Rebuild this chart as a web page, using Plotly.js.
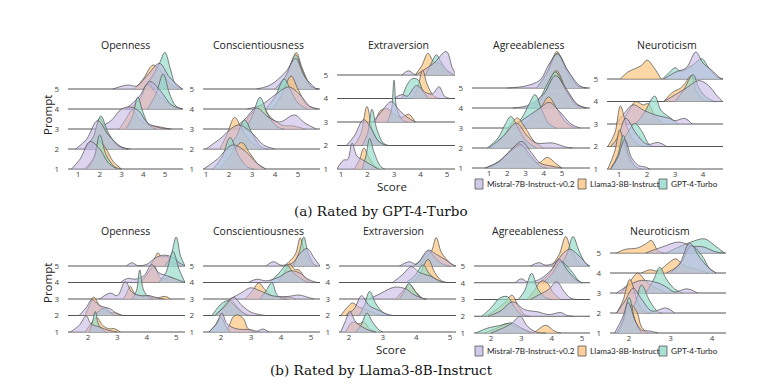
<!DOCTYPE html>
<html><head><meta charset="utf-8">
<script src="https://cdn.plot.ly/plotly-3.0.1.min.js"></script>
<style>html,body{margin:0;padding:0;background:#fff}#chart{width:762px;height:390px}</style>
</head><body><div id="chart"></div>
<script>
const traits = ['Openness','Conscientiousness','Extraversion','Agreeableness','Neuroticism'];
const models = ['Mistral-7B-Instruct-v0.2','Llama3-8B-Instruct','GPT-4-Turbo'];
const prompts = ['1','2','3','4','5'];
const raters = ['(a) Rated by GPT-4-Turbo','(b) Rated by Llama3-8B-Instruct'];
const scoreTicksA = [[1,2,3,4,5],[1,2,3,4,5],[1,2,3,4,5],[1,2,3,4,5],[1,2,3,4]];
const scoreTicksB = [[2,3,4,5],[2,3,4,5],[2,3,4,5],[2,3,4,5],[2,3,4]];

// Density outlines: per prompt 1..5, flat [score, height, ...]
// (height in units of the row spacing). (a) rated by GPT-4-Turbo
const gOpenMis = [[0.7,0,1.1,0.5,1.55,1.37,2.0,1.0,2.4,0.3,2.8,0],[0.9,0,1.4,0.5,1.9,1.42,2.4,0.7,3.0,0.1,3.4,0],[1.8,0,2.5,0.4,3.0,1.0,3.4,1.1,3.8,0.9,4.2,0.3,4.8,0.05,5.3,0],[3.2,0,3.8,0.6,4.3,1.37,4.8,0.9,5.3,0.2,5.8,0],[2.6,0,3.3,0.2,3.7,0.15,4.2,0.7,4.75,1.28,5.2,0.6,5.8,0]];
const gOpenLla = [[1.3,0,1.7,0.5,1.97,1.37,2.3,1.0,2.6,0.4,3.0,0],[1.3,0,1.7,0.6,2.0,1.53,2.4,0.7,2.9,0.15,3.3,0],[2.9,0,3.2,0.5,3.5,0.95,3.9,0.4,4.3,0.2,4.8,0.1,5.2,0],[3.4,0,3.9,0.6,4.2,1.25,4.6,0.8,5.0,0.4,5.5,0],[3.6,0,4.0,0.5,4.45,1.2,4.8,0.9,5.2,0.3,5.6,0]];
const gOpenGpt = [[1.4,0,1.75,0.6,2.0,1.7,2.3,0.7,2.7,0.1,3.0,0],[1.3,0,1.7,0.6,2.05,1.65,2.4,0.8,2.9,0.1,3.3,0],[3.2,0,3.5,0.6,3.75,1.6,4.0,0.8,4.3,0.15,4.6,0],[4.2,0,4.6,0.8,4.92,1.75,5.2,0.8,5.5,0.15,5.8,0],[4.0,0,4.4,0.6,4.75,1.3,5.0,1.83,5.25,1.0,5.5,0.2,5.8,0]];
const gConsMis = [[0.9,0,1.5,0.5,2.15,1.2,2.7,0.9,3.2,0.3,3.6,0],[1.0,0,1.6,0.5,2.4,1.2,3.0,0.8,3.5,0.2,4.0,0],[2.2,0,2.7,0.5,3.2,1.05,3.7,0.6,4.2,0.35,4.85,0.7,5.3,0.3,5.8,0],[2.8,0,3.4,0.2,4.0,0.7,4.6,1.1,5.1,0.7,5.5,0.15,5.9,0],[3.2,0,3.7,0.15,4.1,0.45,4.5,0.9,4.9,1.53,5.3,0.6,5.8,0]];
const gConsLla = [[1.6,0,2.0,0.6,2.55,1.32,2.9,0.8,3.3,0.2,3.6,0],[1.6,0,1.9,0.7,2.25,1.58,2.6,0.9,3.0,0.3,3.4,0],[2.5,0,3.0,0.8,3.4,1.17,3.8,0.6,4.3,0.2,4.8,0.15,5.3,0],[3.9,0,4.3,0.7,4.7,1.65,5.0,1.0,5.4,0.2,5.8,0],[4.0,0,4.4,0.5,4.7,1.3,4.93,1.82,5.2,1.0,5.6,0.1,5.9,0]];
const gConsGpt = [[1.3,0,1.7,0.6,2.05,1.57,2.4,0.7,2.8,0.1,3.1,0],[1.9,0,2.3,0.6,2.68,1.45,3.0,0.8,3.4,0.1,3.7,0],[2.7,0,3.0,0.6,3.35,1.58,3.7,0.7,4.1,0.1,4.4,0],[3.6,0,4.0,0.6,4.4,1.5,4.7,0.9,5.0,0.3,5.4,0],[4.0,0,4.5,0.7,4.9,1.7,5.2,0.9,5.6,0.1,5.9,0]];
const gExtrMis = [[0.85,0,1.1,0.38,1.25,0.4,1.42,1.1,1.6,0.55,1.8,0.4,2.1,0.2,2.4,0],[1.2,0,1.5,0.4,1.85,1.1,2.1,0.8,2.4,0.2,2.7,0],[2.2,0,2.5,0.4,2.9,0.87,3.2,0.5,3.5,0.2,3.8,0],[3.0,0,3.3,0.17,3.5,0.1,3.85,0.55,4.2,0.25,4.45,0.2,4.7,0.5,4.9,0.1,5.1,0],[3.3,0,3.55,0.18,3.8,0.02,4.1,0.2,4.5,0.5,4.97,1.0,5.2,0.3,5.35,0]];
const gExtrLla = [[1.5,0,1.7,0.4,1.86,0.89,2.05,0.5,2.3,0.1,2.5,0],[1.5,0,1.75,0.5,1.98,1.66,2.2,0.6,2.5,0.1,2.7,0],[2.3,0,2.5,0.5,2.8,0.55,3.0,0.3,3.3,0.2,3.55,0.33,3.8,0],[3.7,0,3.9,0.5,4.08,1.2,4.25,0.6,4.5,0.1,4.7,0],[3.8,0,4.05,0.4,4.28,0.93,4.5,0.55,4.7,0.5,4.95,0.2,5.2,0]];
const gExtrGpt = [[1.8,0,1.95,0.6,2.08,1.3,2.25,0.7,2.5,0.1,2.65,0],[1.8,0,2.0,0.5,2.17,1.54,2.35,0.7,2.6,0.1,2.8,0],[2.75,0,2.9,0.5,3.0,1.78,3.1,0.6,3.3,0.1,3.5,0],[3.3,0,3.5,0.6,3.7,0.85,3.9,0.8,4.1,0.3,4.3,0],[4.2,0,4.45,0.6,4.6,0.86,4.75,0.6,5.0,0.2,5.3,0]];
const gAgreMis = [[0.8,0,1.5,0.3,2.2,0.9,2.8,1.33,3.3,0.8,3.8,0.25,4.4,0.1,5.0,0],[1.0,0,1.8,0.6,2.5,1.25,3.1,0.6,3.6,0.25,4.5,0.25,5.2,0.05,5.6,0],[2.2,0,3.0,0.5,3.8,1.0,4.3,1.28,4.9,0.8,5.5,0.2,6.0,0],[2.3,0,3.2,0.15,4.0,0.7,4.65,1.62,5.2,1.0,5.9,0.15,6.4,0],[2.0,0,3.0,0.1,3.8,0.4,4.3,1.2,4.75,1.7,5.3,0.9,6.0,0.1,6.4,0]];
const gAgreLla = [[0.9,0,1.6,0.3,2.2,0.9,2.7,1.2,3.2,0.6,3.7,0.25,4.2,0.53,4.7,0.2,5.0,0],[1.2,0,1.8,0.6,2.2,1.2,2.56,1.5,3.0,1.0,3.5,0.3,4.0,0],[2.8,0,3.4,0.6,3.9,1.1,4.27,1.55,4.7,1.0,5.2,0.3,5.7,0],[3.5,0,4.1,0.8,4.69,1.87,5.2,1.0,5.8,0.2,6.3,0],[3.6,0,4.1,0.6,4.5,1.5,4.72,1.83,5.0,1.4,5.5,0.4,6.0,0]];
const gAgreGpt = [[0.8,0,1.5,0.3,2.2,0.85,2.75,1.15,3.3,0.6,3.8,0.1,4.2,0],[0.9,0,1.5,0.5,1.9,1.2,2.2,1.58,2.6,1.0,3.0,0.4,3.6,0],[2.3,0,2.8,0.5,3.2,1.2,3.53,1.67,3.9,0.9,4.3,0.2,4.7,0],[3.3,0,3.8,0.5,4.2,1.2,4.65,1.8,5.2,0.9,5.8,0.15,6.3,0],[3.6,0,4.2,0.8,4.75,1.75,5.3,0.9,5.9,0.1,6.3,0]];
const gNeurMis = [[0.7,0,0.95,0.5,1.2,1.3,1.45,0.5,1.7,0.15,1.9,0.1,2.1,0],[0.7,0,0.95,0.4,1.24,1.25,1.6,0.6,2.0,0.1,2.4,0.18,2.7,0],[0.9,0,1.2,0.5,1.5,0.85,1.9,0.6,2.3,0.4,2.8,0.25,3.0,0.15,3.35,0.25,3.6,0],[2.6,0,3.0,0.3,3.4,0.6,3.85,0.93,4.2,0.7,4.5,0.25,4.7,0],[2.6,0,3.0,0.3,3.4,0.5,3.74,1.2,4.0,0.7,4.3,0.4,4.6,0.05,4.7,0]];
const gNeurLla = [[0.6,0,0.85,0.8,1.02,1.74,1.2,1.0,1.4,0.3,1.6,0],[0.6,0,0.85,0.6,1.05,1.8,1.25,1.0,1.5,0.3,1.8,0],[1.1,0,1.35,0.6,1.6,1.0,1.85,0.85,2.05,0.9,2.3,0.3,2.6,0],[2.6,0,2.9,0.4,3.2,0.6,3.35,0.8,3.58,1.15,3.75,0.5,4.0,0.1,4.2,0],[1.05,0,1.3,0.3,1.55,0.45,1.8,0.6,2.0,0.84,2.25,0.5,2.5,0]];
const gNeurGpt = [[0.7,0,0.95,0.6,1.15,1.5,1.35,0.6,1.6,0.1,1.8,0],[1.0,0,1.3,0.6,1.56,1.03,1.8,0.7,2.1,0.05,2.3,0],[1.6,0,1.9,0.5,2.27,1.24,2.5,0.6,2.8,0.3,3.1,0],[3.0,0,3.3,0.5,3.64,1.19,3.85,0.6,4.1,0.2,4.4,0],[2.55,0,2.8,0.3,3.0,0.5,3.2,0.35,3.6,0.6,3.95,0.9,4.2,0.5,4.5,0.1,4.7,0]];

// (b) rated by Llama3-8B-Instruct
const lOpenMis = [[1.4,0,1.7,0.4,1.94,0.98,2.1,0.5,2.4,0.3,2.7,0.1,3.0,0],[1.7,0,1.95,0.5,2.13,0.96,2.4,0.6,2.76,0.4,3.0,0.1,3.2,0],[2.4,0,2.76,0.36,3.0,0.2,3.27,1.06,3.5,0.4,3.8,0.2,4.1,0.2,4.4,0.05,4.6,0],[3.1,0,3.35,0.25,3.6,0.2,3.9,0.4,4.17,1.08,4.4,0.6,4.7,0.4,5.0,0.2,5.3,0],[3.3,0,3.5,0.2,3.7,0.02,4.0,0.1,4.3,0.5,4.6,0.66,4.9,0.5,5.1,0.2,5.3,0]];
const lOpenLla = [[1.9,0,2.1,0.5,2.3,0.88,2.5,0.4,2.7,0.2,2.9,0.2,3.1,0],[1.9,0,2.05,0.6,2.19,1.12,2.4,0.6,2.7,0.2,2.95,0.16,3.15,0],[3.2,0,3.3,0.3,3.44,0.76,3.6,0.3,3.8,0.2,4.05,0.2,4.3,0.05,4.63,0.16,4.8,0],[3.8,0,4.05,0.6,4.25,1.0,4.45,0.3,4.6,0.2,4.8,0.35,5.0,0.1,5.2,0],[4.1,0,4.25,0.4,4.38,0.8,4.5,0.55,4.68,0.6,4.85,0.3,5.0,0.1,5.2,0]];
const lOpenGpt = [[2.05,0,2.15,0.6,2.25,1.24,2.35,0.5,2.5,0.1,2.6,0],[2.2,0,2.4,0.3,2.59,0.46,2.75,0.2,2.9,0],[3.5,0,3.65,0.5,3.76,1.76,3.88,0.6,4.05,0.1,4.2,0],[4.4,0,4.65,0.6,4.89,1.88,5.1,0.8,5.3,0],[4.6,0,4.8,0.5,5.0,1.76,5.15,0.6,5.3,0]];
const lConsMis = [[1.6,0,1.85,0.5,2.03,1.14,2.2,0.5,2.5,0.2,3.0,0.14,3.2,0.05,3.4,0.18,3.6,0],[1.8,0,2.1,0.5,2.42,1.1,2.7,0.6,3.0,0.2,3.3,0.05,3.5,0],[2.3,0,2.7,0.4,2.98,0.68,3.3,0.5,3.7,0.2,4.2,0.15,4.6,0.24,4.9,0.1,5.1,0],[2.9,0,3.2,0.2,3.5,0.1,3.9,0.3,4.3,0.7,4.6,0.6,4.9,0.2,5.2,0],[3.5,0,3.75,0.26,4.0,0.05,4.4,0.2,4.6,0.7,4.87,1.06,5.1,0.5,5.3,0]];
const lConsLla = [[2.1,0,2.25,0.3,2.4,0.9,2.55,1.04,2.75,0.8,2.9,0.2,3.1,0],[1.8,0,2.05,0.5,2.31,0.96,2.55,0.5,2.8,0.1,3.0,0],[2.8,0,3.05,0.5,3.26,0.98,3.45,0.6,3.7,0.2,4.0,0.1,4.3,0.1,4.5,0],[3.9,0,4.1,0.6,4.29,1.12,4.45,0.8,4.6,0.76,4.8,0.3,5.0,0],[4.1,0,4.35,0.4,4.5,0.8,4.64,1.7,4.8,0.8,5.0,0.2,5.2,0]];
const lConsGpt = [[1.6,0,1.8,0.4,2.0,0.9,2.15,0.4,2.3,0],[1.7,0,1.9,0.5,2.05,0.76,2.25,0.9,2.45,0.6,2.7,0.2,2.9,0],[3.3,0,3.5,0.5,3.7,1.0,3.85,0.3,4.0,0.05,4.2,0],[3.6,0,3.9,0.5,4.2,1.06,4.4,0.6,4.7,0.2,4.9,0],[4.4,0,4.6,0.8,4.76,1.76,4.9,0.8,5.1,0.1,5.2,0]];
const lExtrMis = [[1.75,0,1.9,0.7,2.02,1.26,2.2,0.6,2.4,0.3,2.6,0.1,2.8,0],[1.9,0,2.15,0.4,2.37,1.2,2.6,0.6,2.9,0.3,3.1,0.1,3.3,0],[2.6,0,2.9,0.3,3.36,0.72,3.7,0.6,3.9,0.3,4.1,0.1,4.3,0],[3.3,0,3.6,0.5,3.85,0.96,4.1,0.6,4.4,0.4,4.7,0.1,4.9,0],[3.5,0,3.8,0.26,4.0,0.1,4.35,0.96,4.6,0.7,4.85,0.4,5.1,0.05,5.2,0]];
const lExtrLla = [[1.9,0,2.1,0.6,2.3,0.5,2.45,0.6,2.6,0.2,2.8,0],[1.75,0,1.95,0.5,2.1,0.76,2.3,0.5,2.6,0.3,2.8,0.1,3.0,0],[3.4,0,3.6,0.5,3.8,0.86,4.0,0.4,4.2,0],[3.9,0,4.1,0.5,4.35,1.4,4.55,0.6,4.75,0.1,4.9,0],[4.1,0,4.3,0.6,4.45,0.9,4.59,1.72,4.75,0.8,5.0,0.2,5.15,0]];
const lExtrGpt = [[2.2,0,2.35,0.4,2.53,1.14,2.7,0.6,2.9,0.1,3.0,0],[2.3,0,2.45,0.6,2.61,1.46,2.8,0.7,3.0,0.2,3.2,0],[3.5,0,3.65,0.5,3.78,0.96,3.95,0.5,4.15,0.05,4.3,0],[3.7,0,3.95,0.4,4.2,1.06,4.4,0.5,4.7,0.05,4.8,0],[3.9,0,4.1,0.3,4.38,0.9,4.55,0.5,4.8,0.1,5.0,0]];
const lAgreMis = [[2.0,0,2.4,0.3,2.7,0.6,2.96,1.0,3.2,0.4,3.5,0.05,3.8,0],[1.9,0,2.3,0.3,2.72,0.86,3.1,0.4,3.55,0.26,3.9,0.1,4.3,0.22,4.5,0.05,4.7,0],[3.3,0,3.6,0.3,3.9,0.6,4.16,1.06,4.4,0.5,4.6,0.1,4.8,0],[2.8,0,3.0,0.24,3.2,0.05,3.6,0.2,4.0,0.8,4.25,1.4,4.5,0.8,4.8,0.2,5.0,0],[3.3,0,3.58,0.2,3.8,0.05,4.1,0.2,4.4,0.8,4.6,1.0,4.9,0.6,5.2,0]];
const lAgreLla = [[1.8,0,2.2,0.3,2.5,0.55,2.8,0.4,3.1,0.2,3.4,0.05,3.8,0.46,4.1,0.1,4.3,0],[1.8,0,2.1,0.3,2.45,0.8,2.69,1.26,2.9,0.6,3.1,0.1,3.3,0],[3.2,0,3.45,0.6,3.65,1.1,3.85,1.0,4.05,0.4,4.3,0],[3.6,0,3.9,0.5,4.25,1.3,4.5,0.7,4.8,0.1,5.0,0],[4.0,0,4.25,0.7,4.46,1.76,4.65,0.9,4.85,0.3,5.0,0]];
const lAgreGpt = [[1.5,0,1.9,0.3,2.3,0.45,2.7,0.6,3.0,0.3,3.3,0],[1.7,0,2.0,0.5,2.3,1.1,2.55,1.16,2.75,0.6,3.0,0.1,3.2,0],[2.9,0,3.1,0.5,3.34,1.56,3.55,0.6,3.8,0.1,4.0,0],[3.7,0,4.0,0.5,4.3,1.25,4.6,0.8,4.9,0.1,5.0,0],[4.3,0,4.5,0.7,4.7,1.76,4.9,0.9,5.1,0.2,5.25,0]];
const lNeurMis = [[1.65,0,1.85,0.8,1.98,1.52,2.15,0.6,2.3,0.15,2.5,0.1,2.7,0],[1.7,0,1.9,0.6,2.1,1.24,2.3,0.7,2.55,0.1,2.9,0.25,3.1,0],[1.7,0,2.0,0.4,2.3,0.63,2.7,0.5,2.9,0.3,3.1,0.05,3.4,0.21,3.65,0],[2.9,0,3.2,0.4,3.46,1.49,3.7,0.8,3.9,0.3,4.1,0],[2.4,0,2.8,0.3,3.21,0.55,3.5,0.35,3.8,0.3,4.1,0.05,4.3,0]];
const lNeurLla = [[1.75,0,1.95,1.0,2.05,1.4,2.2,1.0,2.3,0.3,2.45,0],[1.7,0,1.85,0.6,2.02,1.68,2.2,0.6,2.35,0.1,2.5,0],[1.8,0,2.0,0.5,2.21,0.99,2.4,0.6,2.6,0.3,2.9,0],[2.3,0,2.5,0.16,2.7,0.1,2.95,0.5,3.13,0.71,3.3,0.4,3.6,0.2,3.9,0],[1.7,0,1.9,0.18,2.2,0.25,2.4,0.45,2.54,0.63,2.7,0.1,2.85,0]];
const lNeurGpt = [[1.7,0,1.85,0.6,2.0,1.77,2.15,0.6,2.3,0],[2.0,0,2.15,0.5,2.3,1.4,2.5,0.6,2.7,0.05,2.8,0],[2.4,0,2.6,0.7,2.74,1.29,2.9,0.7,3.1,0.2,3.3,0],[3.0,0,3.25,0.5,3.5,1.35,3.75,0.9,3.95,0.2,4.1,0],[2.9,0,3.2,0.3,3.5,0.55,3.82,0.71,4.05,0.4,4.3,0]];

const setsA = [[gOpenMis,gOpenLla,gOpenGpt],[gConsMis,gConsLla,gConsGpt],[gExtrMis,gExtrLla,gExtrGpt],[gAgreMis,gAgreLla,gAgreGpt],[gNeurMis,gNeurLla,gNeurGpt]];
const setsB = [[lOpenMis,lOpenLla,lOpenGpt],[lConsMis,lConsLla,lConsGpt],[lExtrMis,lExtrLla,lExtrGpt],[lAgreMis,lAgreLla,lAgreGpt],[lNeurMis,lNeurLla,lNeurGpt]];

// ---- layout geometry (pixels) ----
const W = 762, H = 390;
const geo = [
  {x0:68, x1:183, r:[0.54,5.83], py1:169, sp:20,   tx:125, ty:45},
  {x0:203,x1:320, r:[0.87,5.96], py1:169, sp:20,   tx:258, ty:45},
  {x0:337,x1:455, r:[0.85,5.30], py1:169, sp:23.5, tx:399, ty:45},
  {x0:472,x1:590, r:[0.07,6.54], py1:168, sp:20,   tx:529, ty:45},
  {x0:607,x1:723, r:[0.57,4.71], py1:169, sp:22.5, tx:667, ty:45},
  {x0:68, x1:185, r:[1.32,5.30], py1:332, sp:16.5, tx:125, ty:231},
  {x0:203,x1:320, r:[1.40,5.30], py1:332, sp:16.5, tx:258, ty:231},
  {x0:339,x1:456, r:[1.70,5.18], py1:332, sp:16.5, tx:393, ty:231},
  {x0:474,x1:590, r:[1.44,5.26], py1:333, sp:16.75,tx:528, ty:231},
  {x0:610,x1:726, r:[1.54,4.34], py1:333, sp:20,   tx:660, ty:231}
];
// fill colours (model order: Mistral, Llama, GPT); drawn Llama, GPT, then Mistral on top
const fills = ['rgba(194,180,226,0.56)','rgba(253,196,126,0.68)','rgba(148,220,200,0.68)'];
const legendFills = ['#d0cae9','#fcd09b','#a8e0d2'];
const drawOrder = [1, 2, 0];
const edge = '#555555';
const px = v => v / W, py = v => 1 - v / H;
const FONT = 'Open Sans, DejaVu Sans, sans-serif';
const LFONT = 'Lato, Open Sans, sans-serif';

const traces = [];
const layout = {
  width: W, height: H, margin:{l:0,r:0,t:0,b:0},
  paper_bgcolor:'#fff', plot_bgcolor:'rgba(0,0,0,0)', showlegend:false,
  annotations: [], shapes: []
};

for (let p = 0; p < 10; p++) {
  const g = geo[p];
  const ax = p === 0 ? '' : String(p + 1);
  const sets = p < 5 ? setsA[p] : setsB[p - 5];
  const ticks = p < 5 ? scoreTicksA[p] : scoreTicksB[p - 5];
  for (let r = 4; r >= 0; r--) {
    traces.push({x:g.r, y:[r,r], xaxis:'x'+ax, yaxis:'y'+ax, mode:'lines',
      line:{color:edge, width:1}, hoverinfo:'skip'});
    for (const m of drawOrder) {
      const k = sets[m][r];
      const xs = [], ys = [];
      for (let i = 0; i < k.length; i += 2) { xs.push(k[i]); ys.push(r + k[i+1]); }
      traces.push({x:xs, y:ys, xaxis:'x'+ax, yaxis:'y'+ax, mode:'lines', fill:'toself',
        fillcolor:fills[m], line:{shape:'spline', smoothing:1, color:edge, width:0.75},
        name:models[m], hoverinfo:'skip'});
    }
  }
  const ymin = -0.15, ymax = 6.3;
  const bot = g.py1 - ymin * g.sp, top = Math.max(0, g.py1 - ymax * g.sp);
  layout['xaxis'+ax] = {domain:[px(g.x0), px(g.x1)], range:g.r, anchor:'free', position:py(g.py1-1),
    tickvals:ticks, ticks:'', ticklen:0,
    tickfont:{family:FONT, size:8, color:'#444'}, showgrid:false, zeroline:false, showline:false, fixedrange:true};
  layout['yaxis'+ax] = {domain:[py(bot), py(top)], range:[ymin, ymax], anchor:'x'+ax,
    tickvals:[0,1,2,3,4], ticktext:prompts, ticks:'', ticklabelstandoff:8,
    tickfont:{family:FONT, size:8, color:'#444'}, showgrid:false, zeroline:false, showline:false, fixedrange:true};
  layout.annotations.push({xref:'paper', yref:'paper', x:px(g.tx), y:py(g.ty), text:traits[p%5],
    showarrow:false, xanchor:'center', yanchor:'middle', font:{family:FONT, size:10.5, color:'#222'}});
}

// axis titles, captions, legends for both halves
const halves = [{prompt:115, score:[392,186], leg:184, cap:211}, {prompt:283, score:[391,349], leg:351, cap:370}];
const legBox = [475, 578, 659];
halves.forEach((h, i) => {
  layout.annotations.push({xref:'paper', yref:'paper', x:px(47), y:py(h.prompt), text:'Prompt', textangle:-90,
    showarrow:false, xanchor:'center', yanchor:'middle', font:{family:FONT, size:11.5, color:'#222'}});
  layout.annotations.push({xref:'paper', yref:'paper', x:px(h.score[0]), y:py(h.score[1]), text:'Score',
    showarrow:false, xanchor:'center', yanchor:'middle', font:{family:FONT, size:11.5, color:'#222'}});
  layout.annotations.push({xref:'paper', yref:'paper', x:px(381), y:py(h.cap), text:raters[i],
    showarrow:false, xanchor:'center', yanchor:'middle', font:{family:'DejaVu Serif, serif', size:13.5, color:'#111'}});
  legBox.forEach((bx, m) => {
    layout.shapes.push({type:'rect', xref:'paper', yref:'paper', x0:px(bx), x1:px(bx+8), y0:py(h.leg+5), y1:py(h.leg-5),
      fillcolor:legendFills[m], line:{color:'#555', width:0.8}});
    layout.annotations.push({xref:'paper', yref:'paper', x:px(bx+9.5), y:py(h.leg), text:models[m],
      showarrow:false, xanchor:'left', yanchor:'middle', font:{family:LFONT, size:8.2, color:'#222'}});
  });
});

Plotly.newPlot('chart', traces, layout, {staticPlot:true, displayModeBar:false});
</script>
</body></html>
